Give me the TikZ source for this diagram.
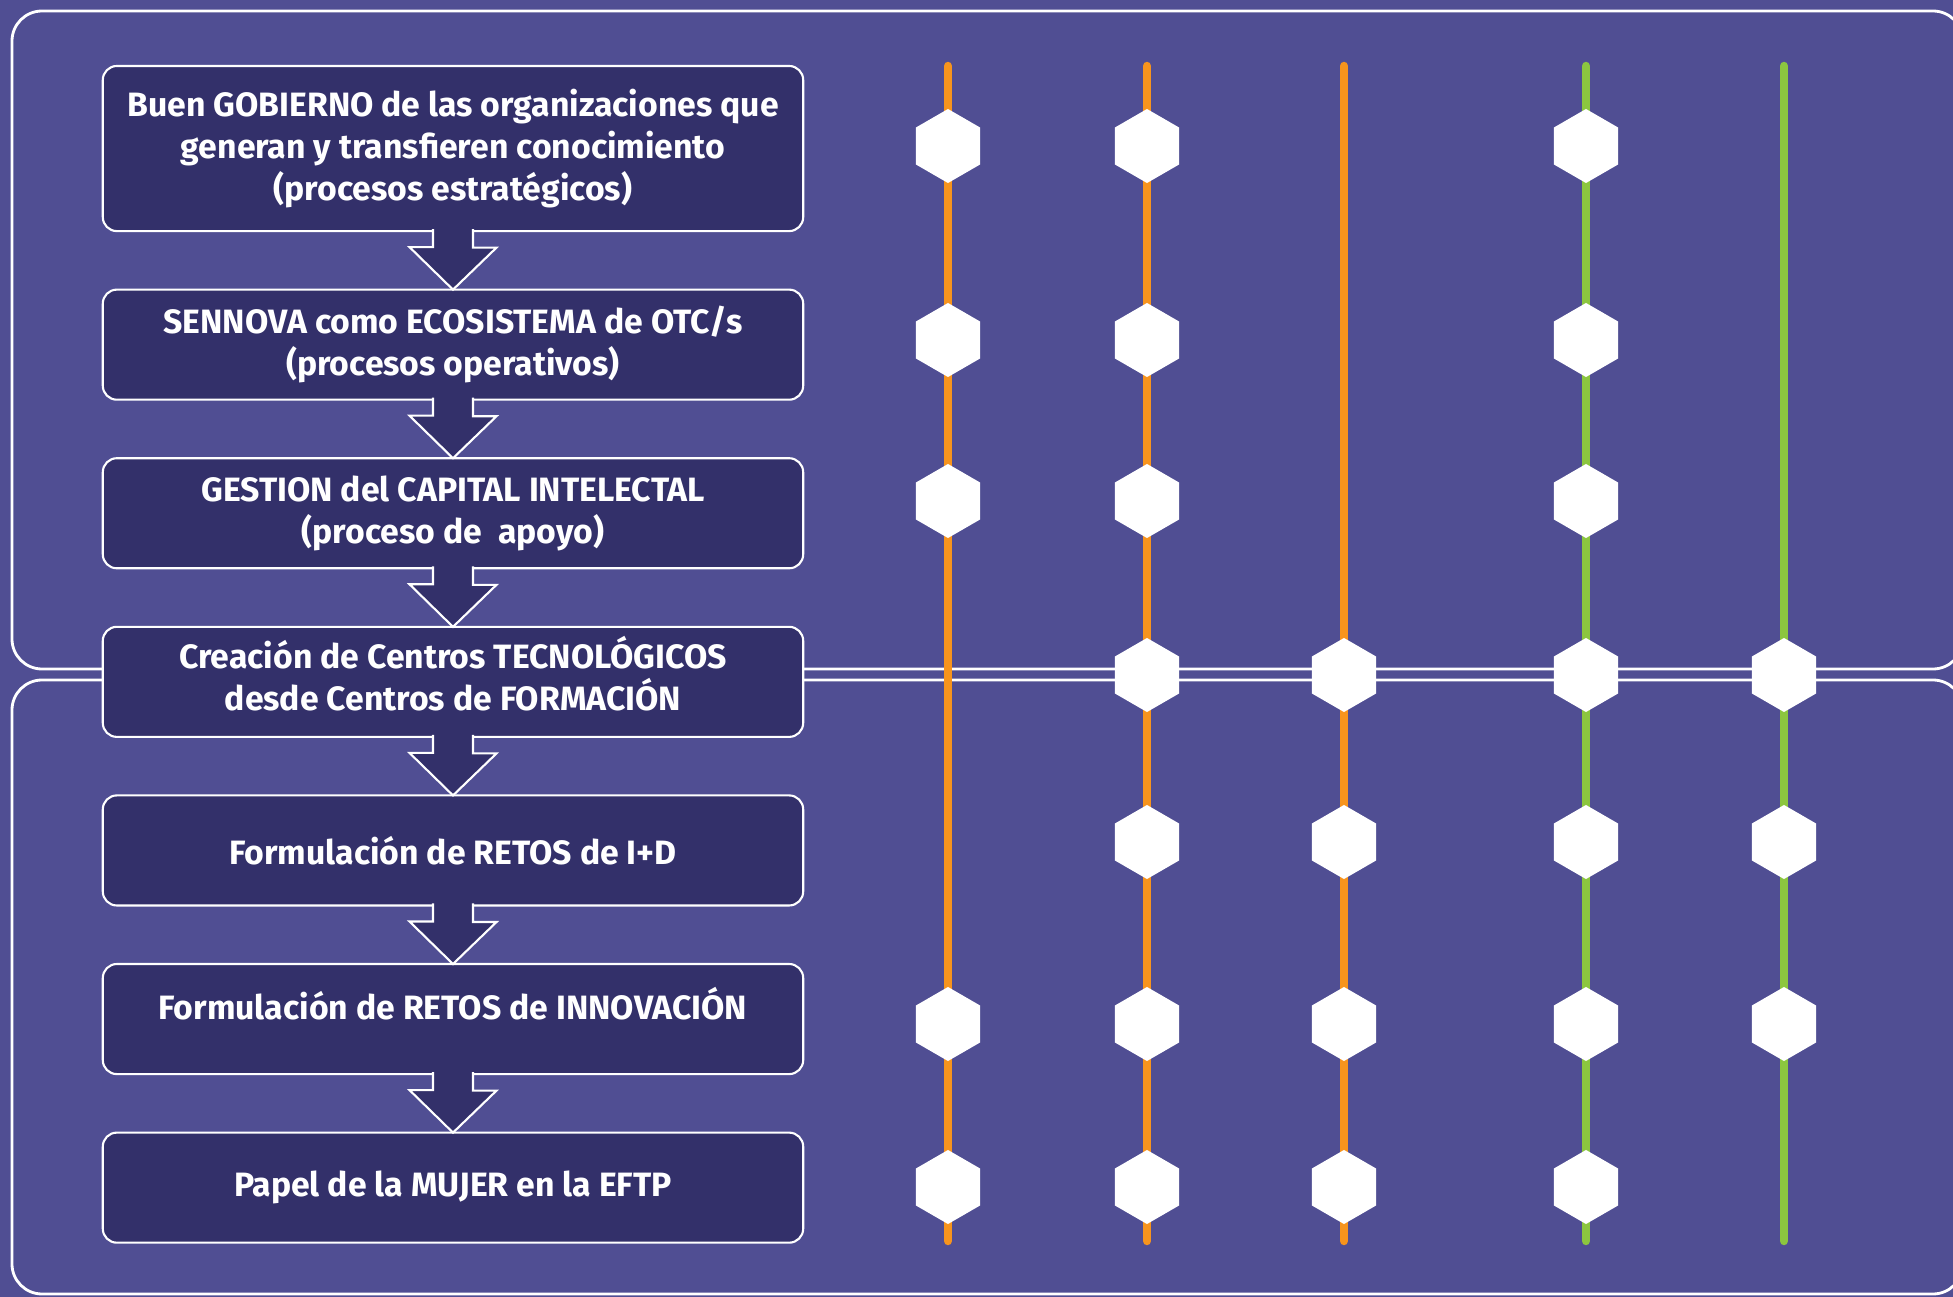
\documentclass[tikz,border=0pt]{standalone}
\usepackage{fontspec}
\setmainfont{Fira Sans}
\usetikzlibrary{calc,positioning,shapes.geometric}

\definecolor{fondo}{HTML}{504E93}
\definecolor{caja}{HTML}{33306A}
\definecolor{naranja}{HTML}{F7941D}
\definecolor{verde}{HTML}{8CC63F}

\tikzset{
  proceso/.style={draw=white, line width=0.6pt, fill=caja, rounded corners=0.14cm,
    minimum width=7cm, minimum height=1.1cm, inner sep=0pt, outer sep=0pt, align=center,
    text=white, font=\fontsize{9.6}{12}\selectfont\bfseries},
  flecha/.style={draw=white, line width=0.6pt, fill=caja},
  marco/.style={draw=white, line width=0.8pt, rounded corners=0.3cm},
  eje/.style={line width=2.4pt, line cap=round},
  hexa/.style={regular polygon, regular polygon sides=6, shape border rotate=90,
    fill=white, inner sep=0pt, minimum size=0.74cm}
}

\begin{document}
\begin{tikzpicture}[x=0.01cm, y=-0.01cm]
\useasboundingbox (0,0) rectangle (1953,1297);
\fill[fondo] (0,0) rectangle (1953,1297);
% marcos
\draw[marco] (12,11) rectangle (1963,669);
\draw[marco] (12,680) rectangle (1963,1294);
% ejes verticales
\foreach \x/\c in {948/naranja, 1147/naranja, 1344/naranja, 1586/verde, 1784/verde}
  \draw[eje, \c] (\x,66) -- (\x,1241);

% procesos
\node[proceso, minimum height=1.65cm, anchor=north] (gobierno) at (453,66)
  {Buen GOBIERNO de las organizaciones que\\generan y transfieren conocimiento\\(procesos estratégicos)};
\node[proceso, below=0.585cm of gobierno] (sennova) {SENNOVA como ECOSISTEMA de OTC/s\\(procesos operativos)};
\node[proceso, below=0.585cm of sennova] (gestion) {GESTION del CAPITAL INTELECTAL\\(proceso de~ apoyo)};
\node[proceso, below=0.585cm of gestion, text depth=5pt] (centros) {Creación de Centros TECNOLÓGICOS\\desde Centros de FORMACIÓN};
\node[proceso, below=0.585cm of centros] (retosid) {Formulación de RETOS de I+D};
\node[proceso, below=0.585cm of retosid, text depth=9pt] (retosinn) {Formulación de RETOS de INNOVACIÓN};
\node[proceso, below=0.585cm of retosinn] (mujer) {Papel de la MUJER en la EFTP};

% flechas de bloque
\foreach \a/\b in {gobierno/sennova, sennova/gestion, gestion/centros, centros/retosid,
                   retosid/retosinn, retosinn/mujer}
  \filldraw[flecha] ($(\a.south)+(-20,-2)$) -- ++(0,18) -- ++(-23.5,0) -- (\b.north)
    -- ($(\b.north)+(43.5,-42)$) -- ++(-23.5,0) -- ($(\a.south)+(20,-2)$);

% hexagonos
\def\colx{{948,1147,1344,1586,1784}}
\foreach \y/\cols in {146/{1,2,4}, 340/{1,2,4}, 501/{1,2,4}, 675/{2,3,4,5},
                      842/{2,3,4,5}, 1024/{1,2,3,4,5}, 1187/{1,2,3,4}}
  \foreach \c in \cols {
    \pgfmathsetmacro\xx{\colx[\c-1]}
    \node[hexa] (hex-\y-\c) at (\xx,\y) {};
  }
\end{tikzpicture}
\end{document}
